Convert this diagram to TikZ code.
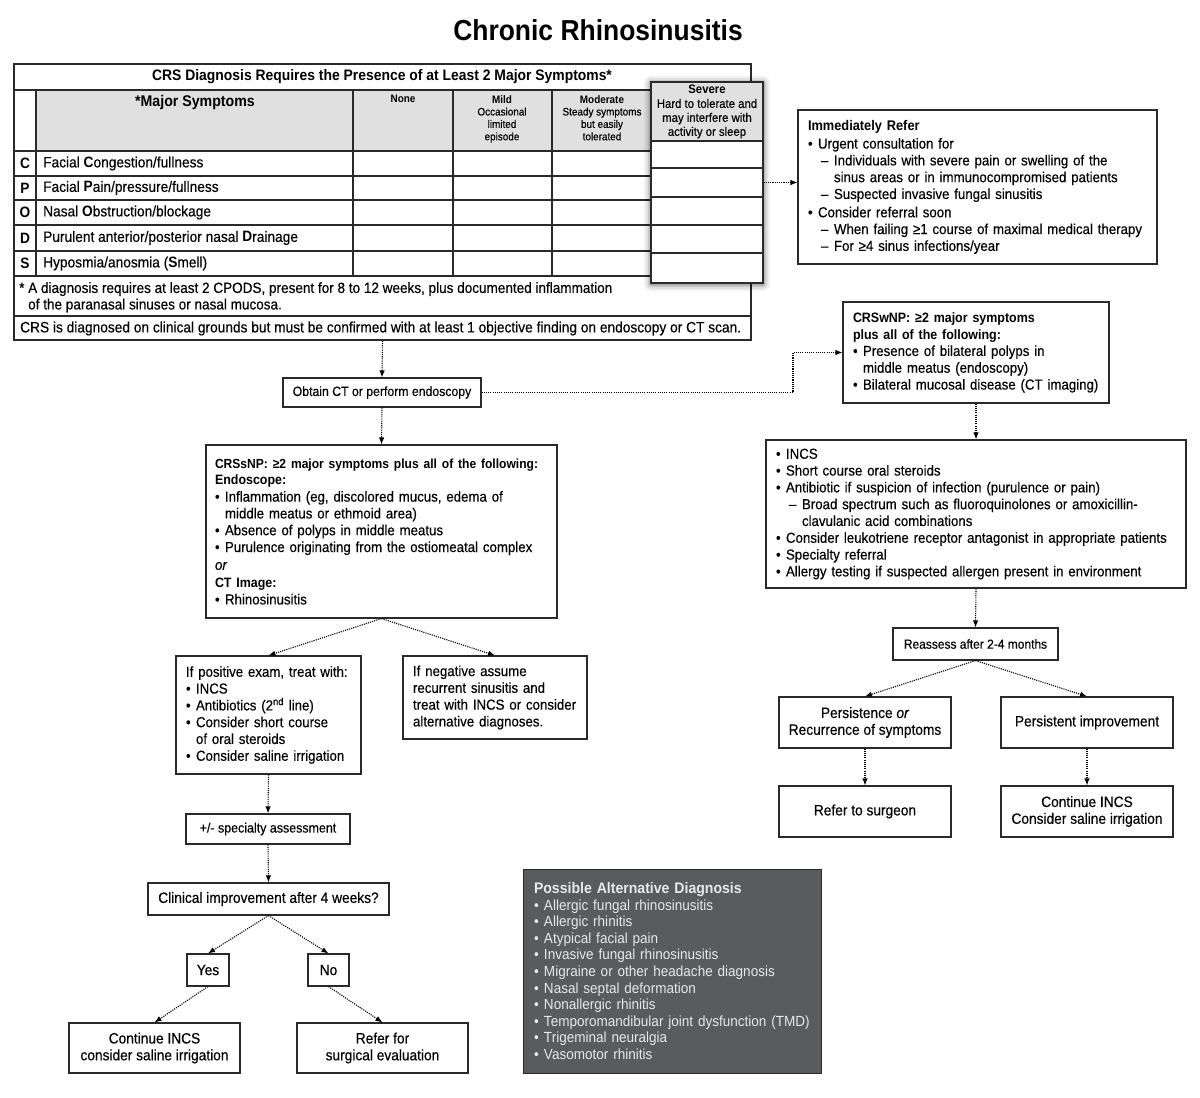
\documentclass[tikz,border=0pt]{standalone}
\usepackage{fontspec}
\setmainfont{Liberation Sans}[FakeStretch=0.915, UprightFeatures={FakeBold=0.3}, ItalicFeatures={FakeBold=0.3}]
\newfontfamily\altfont{Liberation Sans}[FakeStretch=0.92]
\usetikzlibrary{arrows.meta}
\newcommand\Bu{\makebox[10pt][l]{•}}
\newcommand\BB{\hspace*{10pt}}
\newcommand\Da{\hspace*{13pt}\makebox[13pt][l]{–}}
\newcommand\DD{\hspace*{26pt}}
\newcommand\hb[2]{\mbox{\fontsize{#1}{16.8}\selectfont\bfseries #2}}
\definecolor{hdr}{HTML}{E0E0E0}
\definecolor{altbg}{HTML}{5A5B5D}
\definecolor{alttx}{HTML}{E8E8E8}
\definecolor{ln}{HTML}{2A2A2A}
\begin{document}
\begin{tikzpicture}[x=1pt,y=-1pt,
  box/.style={draw=ln, line width=1.1pt, fill=white, inner sep=0pt, align=center,
    font={\fontsize{15}{16.8}\selectfont}},
  lbox/.style={box, align=left, inner xsep=10pt, font={\fontsize{14.5}{16.8}\selectfont}},
  flow/.style={draw=black, line width=1.1pt, dash pattern=on 1.1pt off 1.1pt,
    -{Latex[length=7pt,width=5.5pt]}},
  tline/.style={draw=ln, line width=1.1pt},
  ttxt/.style={inner sep=0pt, font={\fontsize{15}{16.5}\selectfont}},
]
\useasboundingbox (0,0) rectangle (1200,1098);
\fill[white] (0,0) rectangle (1200,1098);

% title
\node[inner sep=0pt, font={\fontsize{28.9}{32}\selectfont\bfseries}] (title) at (598,30) {Chronic Rhinosinusitis};

% ---------------- table ----------------
\fill[hdr] (36,90) rectangle (651,151);
\node[draw=ln, line width=1.5pt, minimum width=737pt, minimum height=276pt, inner sep=0pt] (table) at (382.5,202) {};
\foreach \yy in {90,151,176,200,225,251,276,316}
  \draw[tline] (14,\yy) -- (751,\yy);
\foreach \xx in {36,353,453,552}
  \draw[tline] (\xx,90) -- (\xx,276);
\node[ttxt, font={\fontsize{15.2}{16.8}\selectfont\bfseries}] (tabtitle) at (382,77) {CRS Diagnosis Requires the Presence of at Least 2 Major Symptoms*};
\node[ttxt, font={\fontsize{15.5}{18}\selectfont\bfseries}] (hmajor) at (195,102) {*Major Symptoms};
\node[ttxt, anchor=north, font={\fontsize{10.85}{12.4}\selectfont\bfseries}] (hnone) at (403,95) {None};
\node[ttxt, anchor=north, align=center, font={\fontsize{10.85}{12.4}\selectfont}] (hmild) at (502,95) {\textbf{Mild}\\Occasional\\limited\\episode};
\node[ttxt, anchor=north, align=center, font={\fontsize{10.85}{12.4}\selectfont}] (hmod) at (602,95) {\textbf{Moderate}\\Steady symptoms\\but easily\\tolerated};
\foreach \n/\l/\yy/\t in {lc/C/163.5/{Facial \textbf{C}ongestion/fullness},
                          lp/P/188/{Facial \textbf{P}ain/pressure/fullness},
                          lo/O/212.5/{Nasal \textbf{O}bstruction/blockage},
                          ld/D/238/{Purulent anterior/posterior nasal \textbf{D}rainage},
                          ls/S/263.5/{Hyposmia/anosmia (\textbf{S}mell)}} {
  \node[ttxt, font={\fontsize{15}{16.8}\selectfont\bfseries}] (\n) at (25,\yy) {\l};
  \node[ttxt, anchor=west] (\n-t) at (43,\yy) {\t};
}
\node[ttxt, anchor=north west, align=left, font={\fontsize{14.8}{16.5}\selectfont}] (foot) at (19,282) {* A diagnosis requires at least 2 CPODS, present for 8 to 12 weeks, plus documented inflammation\\\hspace*{9pt}of the paranasal sinuses or nasal mucosa.};
\node[ttxt, anchor=west] (conf) at (20,328.5) {CRS is diagnosed on clinical grounds but must be confirmed with at least 1 objective finding on endoscopy or CT scan.};

% severe column overlay with shadow
\foreach \i/\o in {7/0.05,5/0.07,3/0.10,1.5/0.14}
  \fill[black, opacity=\o, rounded corners=\i pt] ({651-\i},{82-\i+1}) rectangle ({763+\i},{283+\i+1});
\node[draw=ln, line width=1.3pt, fill=white, minimum width=112pt, minimum height=201pt, inner sep=0pt] (severe) at (707,182.5) {};
\fill[hdr] (651,82) rectangle (763,141);
\foreach \yy in {141,168,197,225,253}
  \draw[tline] (651,\yy) -- (763,\yy);
\draw[draw=ln, line width=1.3pt] (651,82) rectangle (763,283);
\node[ttxt, anchor=north, align=center, font={\fontsize{12.4}{14}\selectfont}] (hsev) at (707,85) {\textbf{Severe}\\Hard to tolerate and\\may interfere with\\activity or sleep};

% ---------------- boxes ----------------
\node[lbox, minimum width=359pt, minimum height=154pt, text width=339pt] (immref) at (977.5,187) {%
\hb{14}{Immediately Refer}\\[1.5pt]
\Bu Urgent consultation for\\
\Da Individuals with severe pain or swelling of the\\
\DD sinus areas or in immunocompromised patients\\
\Da Suspected invasive fungal sinusitis\\[1.5pt]
\Bu Consider referral soon\\
\Da When failing ≥1 course of maximal medical therapy\\
\Da For ≥4 sinus infections/year};

\node[box, minimum width=198pt, minimum height=29pt, font={\fontsize{13.4}{15.6}\selectfont}] (obtain) at (382,392.5) {Obtain CT or perform endoscopy};

\node[lbox, minimum width=266pt, minimum height=101pt, text width=246pt] (crswnp) at (976,352.5) {%
\hb{13.6}{CRSwNP: ≥2 major symptoms}\\
\hb{13.6}{plus all of the following:}\\
\Bu Presence of bilateral polyps in\\
\BB middle meatus (endoscopy)\\
\Bu Bilateral mucosal disease (CT imaging)};

\node[lbox, minimum width=420pt, minimum height=148pt, text width=400pt] (treat) at (976,514) {%
\Bu INCS\\
\Bu Short course oral steroids\\
\Bu Antibiotic if suspicion of infection (purulence or pain)\\
\Da Broad spectrum such as fluoroquinolones or amoxicillin-\\
\DD clavulanic acid combinations\\
\Bu Consider leukotriene receptor antagonist in appropriate patients\\
\Bu Specialty referral\\
\Bu Allergy testing if suspected allergen present in environment};

\node[box, minimum width=165pt, minimum height=32pt, font={\fontsize{13.1}{15.6}\selectfont}] (reassess) at (975.5,644) {Reassess after 2-4 months};
\node[box, minimum width=172pt, minimum height=51pt] (persist) at (865,722.5) {Persistence \textit{or}\\Recurrence of symptoms};
\node[box, minimum width=172pt, minimum height=51pt] (improve) at (1087,722.5) {Persistent improvement};
\node[box, minimum width=172pt, minimum height=51pt] (surgeon) at (865,811.5) {Refer to surgeon};
\node[box, minimum width=172pt, minimum height=51pt] (contincs) at (1087,811.5) {Continue INCS\\Consider saline irrigation};

\node[lbox, inner xsep=9pt, minimum width=351pt, minimum height=173pt, text width=333pt] (crssnp) at (381.5,531.5) {%
\hb{13.2}{CRSsNP: ≥2 major symptoms plus all of the following:}\\
\hb{13.6}{Endoscope:}\\
\Bu Inflammation (eg, discolored mucus, edema of\\
\BB middle meatus or ethmoid area)\\
\Bu Absence of polyps in middle meatus\\
\Bu Purulence originating from the ostiomeatal complex\\[1pt]
\textit{or}\\[1pt]
\hb{13.6}{CT Image:}\\
\Bu Rhinosinusitis};

\node[lbox, minimum width=185pt, minimum height=118pt, text width=165pt] (positive) at (268.5,715) {%
If positive exam, treat with:\\
\Bu INCS\\
\Bu Antibiotics (2\textsuperscript{nd} line)\\
\Bu Consider short course\\
\BB of oral steroids\\
\Bu Consider saline irrigation};

\node[lbox, minimum width=184pt, minimum height=83pt, text width=164pt] (negative) at (495,697.5) {%
If negative assume\\
recurrent sinusitis and\\
treat with INCS or consider\\
alternative diagnoses.};

\node[box, minimum width=164pt, minimum height=30pt, font={\fontsize{13.6}{15.6}\selectfont}] (specialty) at (268,829) {+/- specialty assessment};
\node[box, minimum width=241pt, minimum height=32pt] (clinical) at (268.5,899) {Clinical improvement after 4 weeks?};
\node[box, minimum width=42pt, minimum height=32pt] (yes) at (208,970) {Yes};
\node[box, minimum width=41pt, minimum height=32pt] (no) at (328.5,970) {No};
\node[box, minimum width=171pt, minimum height=50pt] (cont) at (154.5,1048) {Continue INCS\\consider saline irrigation};
\node[box, minimum width=171pt, minimum height=50pt] (refer) at (382.5,1048) {Refer for\\surgical evaluation};

\node[draw=ln, line width=1pt, fill=altbg, text=alttx, align=left, inner xsep=11pt, inner ysep=0pt,
  minimum width=298pt, minimum height=204pt, text width=276pt,
  font={\altfont\fontsize{14.7}{16.6}\selectfont}] (altdx) at (672,971) {%
{\fontsize{15.3}{16.6}\selectfont\bfseries Possible Alternative Diagnosis}\\
\Bu Allergic fungal rhinosinusitis\\
\Bu Allergic rhinitis\\
\Bu Atypical facial pain\\
\Bu Invasive fungal rhinosinusitis\\
\Bu Migraine or other headache diagnosis\\
\Bu Nasal septal deformation\\
\Bu Nonallergic rhinitis\\
\Bu Temporomandibular joint dysfunction (TMD)\\
\Bu Trigeminal neuralgia\\
\Bu Vasomotor rhinitis};

% ---------------- connectors ----------------
\coordinate (bend) at (793,392.5);
\draw[flow] (severe.east) -- (severe.east -| immref.west);
\draw[flow] (table.south) -- (obtain.north);
\draw[flow] (obtain.east) -- (bend) |- (crswnp.west);
\draw[flow] (crswnp.south) -- (treat.north);
\draw[flow] (treat.south) -- (reassess.north);
\draw[flow] (reassess.south) -- (persist.north);
\draw[flow] (reassess.south) -- (improve.north);
\draw[flow] (persist.south) -- (surgeon.north);
\draw[flow] (improve.south) -- (contincs.north);
\draw[flow] (obtain.south) -- (crssnp.north);
\draw[flow] (crssnp.south) -- (positive.north);
\draw[flow] (crssnp.south) -- (negative.north);
\draw[flow] (positive.south) -- (specialty.north);
\draw[flow] (specialty.south) -- (clinical.north);
\draw[flow] (clinical.south) -- (yes.north);
\draw[flow] (clinical.south) -- (no.north);
\draw[flow] (yes.south) -- (cont.north);
\draw[flow] (no.south) -- (refer.north);
\end{tikzpicture}
\end{document}
